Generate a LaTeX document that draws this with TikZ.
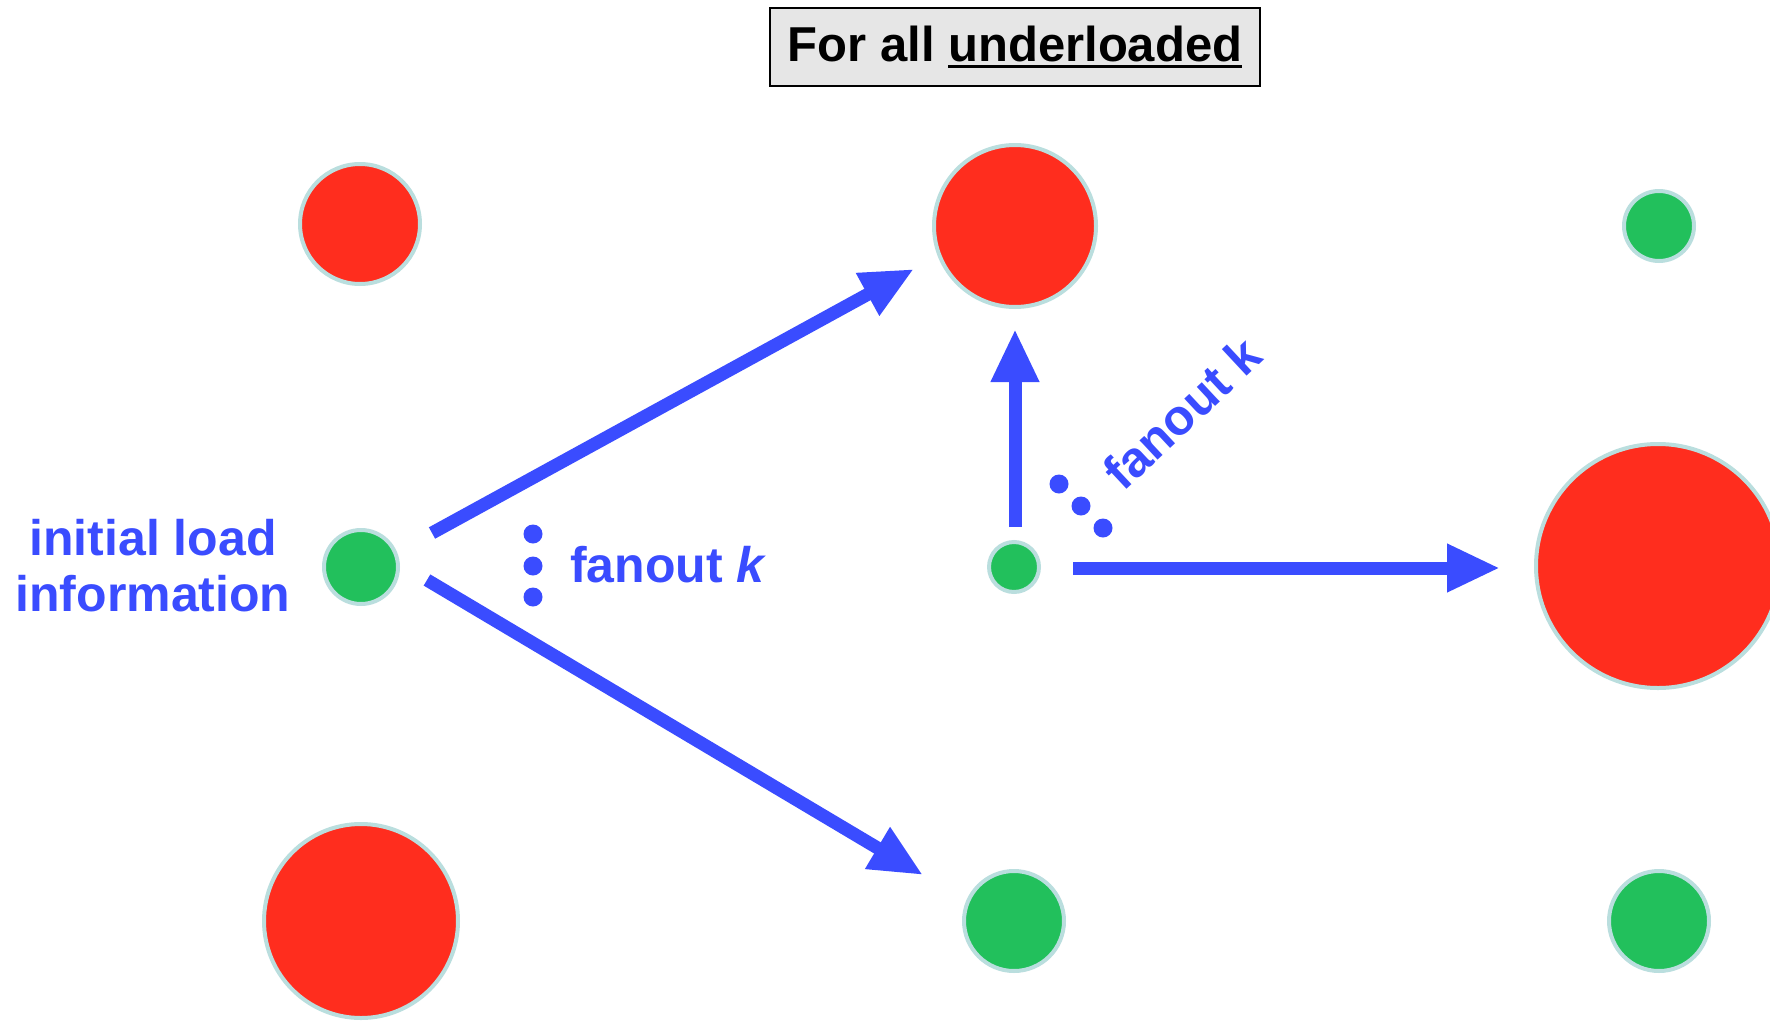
\documentclass[tikz,border=0pt]{standalone}
\usepackage{fontspec}
\setmainfont{Liberation Sans}
\usetikzlibrary{arrows.meta}
\definecolor{hotred}{RGB}{255,45,30}
\definecolor{leafgreen}{RGB}{34,192,92}
\definecolor{ringcol}{RGB}{186,222,222}
\definecolor{signal}{RGB}{58,76,255}
\definecolor{panelgray}{RGB}{230,230,230}
% underline drawn as a heavier rule under the word
\newcommand\heavyul[1]{\begingroup\setbox0\hbox{#1}\rlap{\rule[-7pt]{\wd0}{3.6pt}}\box0\endgroup}
\tikzset{
  ball/.style={circle, inner sep=0pt, draw=ringcol, line width=4pt},
  hot/.style={ball, fill=hotred},
  cool/.style={ball, fill=leafgreen},
  dotmark/.style={circle, fill=signal, inner sep=0pt, minimum size=19pt},
  arr/.style={draw=signal, line width=13pt,
    -{Triangle[length=53pt, width=45pt]}},
  lbl/.style={text=signal, font=\fontsize{50}{56}\selectfont\bfseries, inner sep=0pt}
}
\begin{document}
\begin{tikzpicture}[x=1pt, y=-1pt]
\useasboundingbox (0,0) rectangle (1770,1023);

% heading
\node[draw=black, fill=panelgray, line width=2.5pt, minimum width=490pt,
      minimum height=78pt, inner sep=0pt,
      font=\fontsize{49}{56}\selectfont\bfseries] (title) at (1015,47)
  {For all \heavyul{underloaded}};

% servers
\node[hot,  minimum size=120pt] (r1) at (360,224) {};
\node[hot,  minimum size=162pt] (r2) at (1015,226) {};
\node[cool, minimum size=70pt]  (g1) at (1659,226) {};
\node[cool, minimum size=74pt]  (g2) at (361,567) {};
\node[cool, minimum size=50pt]  (g3) at (1014,567) {};
\node[hot,  minimum size=244pt] (r3) at (1658,566) {};
\node[hot,  minimum size=194pt] (r4) at (361,921) {};
\node[cool, minimum size=100pt] (g4) at (1014,921) {};
\node[cool, minimum size=100pt] (g5) at (1659,921) {};

% arrow ends
\coordinate (a1s) at (432,533);
\coordinate (a1e) at (914,269);
\coordinate (a2s) at (427,580);
\coordinate (a2e) at (923,875);
\coordinate (a3s) at (1015,527);
\coordinate (a3e) at (1015,329);
\coordinate (a4s) at (1073,568);
\coordinate (a4e) at (1500,568);

\draw[arr] (a1s) -- (a1e);
\draw[arr] (a2s) -- (a2e);
\draw[arr] (a3s) -- (a3e);
\draw[arr] (a4s) -- (a4e);

% fanout dots
\node[dotmark] (d1) at (533,534) {};
\node[dotmark] (d2) at (533,566) {};
\node[dotmark] (d3) at (533,597) {};
\node[dotmark] (d4) at (1059,484) {};
\node[dotmark] (d5) at (1081,506) {};
\node[dotmark] (d6) at (1103,528) {};

% labels
\node[lbl, anchor=base west] (fk1) at (570,582) {fanout \textit{k}};
\node[lbl, align=center] (init) at (153,566) {initial load\\information};
\node[lbl, rotate=43] (fk2) at (1182,413) {fanout k};
\end{tikzpicture}
\end{document}
